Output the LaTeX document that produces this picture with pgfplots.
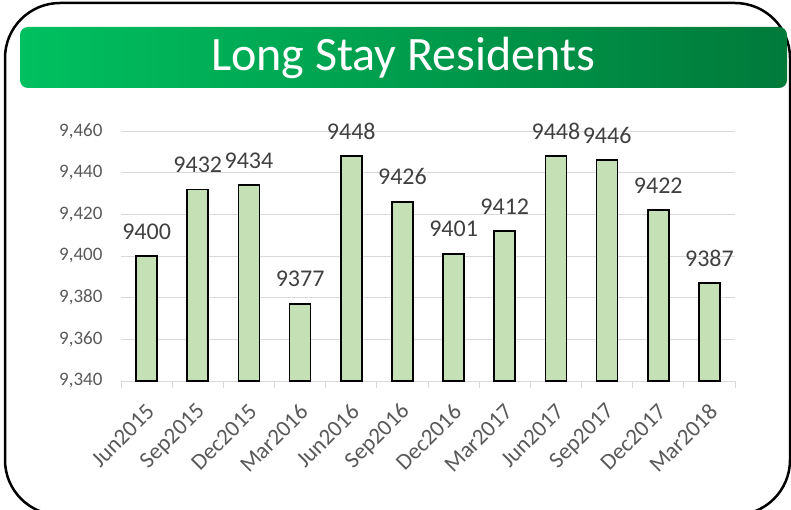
\documentclass[border=0pt]{standalone}
\usepackage{pgfplots}
\pgfplotsset{compat=1.18}
\usepackage{fontspec}
\setmainfont{Carlito}
\definecolor{barfill}{HTML}{C5E0B4}
\definecolor{gridc}{HTML}{D9D9D9}
\definecolor{ticklab}{HTML}{595959}
\definecolor{datalab}{HTML}{404040}
\definecolor{gLight}{HTML}{00C060}
\definecolor{gDark}{HTML}{007A3A}
\begin{document}
\begin{tikzpicture}
\useasboundingbox (0pt,0pt) rectangle (791pt,509pt);
\begin{scope}
\clip (0pt,0pt) rectangle (791pt,509pt);
\draw[line width=2.5pt, rounded corners=55pt] (5pt,506pt) rectangle (790pt,-6pt);
\end{scope}
\shade[rounded corners=8pt, left color=gLight, right color=gDark] (20pt,482pt) rectangle (787pt,421pt);
\node[text=white, font=\fontsize{48}{52}\selectfont] at (403pt,451pt) {Long Stay Residents};
\begin{axis}[
  at={(121pt,128pt)}, anchor=south west,
  scale only axis, width=614pt, height=250pt,
  xmin=-0.5, xmax=11.5, ymin=9340, ymax=9460,
  ytick={9340,9360,...,9460},
  xtick={0,...,11},
  xticklabels={Jun2015,Sep2015,Dec2015,Mar2016,Jun2016,Sep2016,Dec2016,Mar2017,Jun2017,Sep2017,Dec2017,Mar2018},
  minor xtick={-0.5,0.5,...,11.5},
  major tick length=0pt, minor tick length=7pt, tick align=outside,
  minor tick style={color=gridc, line width=1pt},
  axis x line*=bottom, axis y line*=left,
  x axis line style={color=gridc, line width=1pt, -},
  y axis line style={draw=none},
  ymajorgrids, grid style={color=gridc, line width=1pt},
  /pgf/number format/assume math mode=true,
  yticklabel={\pgfmathprintnumber[1000 sep={,}]{\tick}},
  yticklabel style={font=\fontsize{19}{21}\selectfont, text=ticklab, anchor=east, xshift=-15pt},
  xticklabel style={font=\fontsize{23}{25}\selectfont, text=ticklab, anchor=east, inner sep=0pt, xshift=4pt, yshift=-27pt, rotate=45},
  ybar, bar width=21pt,
  clip mode=individual,
  nodes near coords={\pgfmathprintnumber[1000 sep={}]{\pgfplotspointmeta}},
  every node near coord/.append style={font=\fontsize{24}{26}\selectfont, text=datalab, anchor=south, inner sep=0pt, yshift=16pt},
]
\addplot[fill=barfill, draw=black, line width=1.6pt] coordinates {
(0,9400) (1,9432) (2,9434) (3,9377) (4,9448) (5,9426) (6,9401) (7,9412) (8,9448) (9,9446) (10,9422) (11,9387)};
\end{axis}
\end{tikzpicture}
\end{document}
